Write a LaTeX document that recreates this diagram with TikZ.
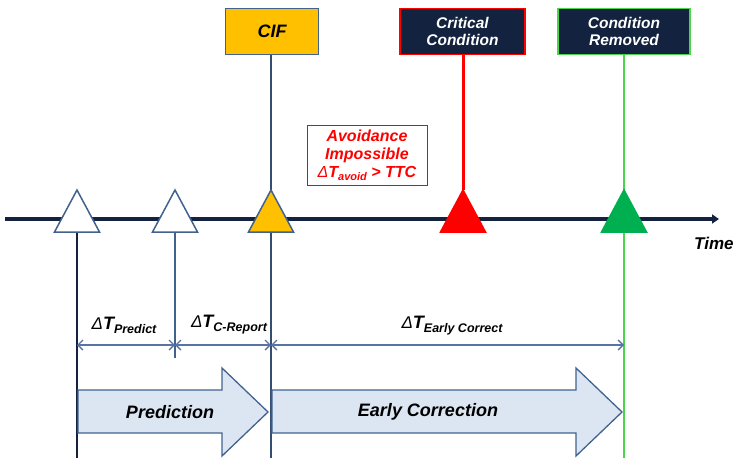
\documentclass[tikz,border=0pt]{standalone}
\usepackage{fontspec}
\setmainfont{Liberation Sans}
\usetikzlibrary{arrows.meta}

\definecolor{navy}{HTML}{13233F}
\definecolor{steel}{HTML}{41628F}
\definecolor{dimblue}{HTML}{5873A5}
\definecolor{cifyellow}{HTML}{FFC000}
\definecolor{alertred}{HTML}{FF0000}
\definecolor{okgreen}{HTML}{00B050}
\definecolor{lightgreen}{HTML}{4CD44C}
\definecolor{blockfill}{HTML}{DCE6F2}

\newcommand{\fsz}[1]{\fontsize{#1}{#1}\selectfont}
\newcommand{\dT}[1]{{\mdseries\fsz{17}Δ}{\fsz{18}T}{\fsz{12.5}\raisebox{-4pt}{#1}}}

\tikzset{
  every node/.style={font=\bfseries\itshape, inner sep=0pt},
  eventbox/.style={minimum height=46pt, align=center, font=\bfseries\itshape\fsz{15.5}, line width=1.8pt},
  tri/.style={line width=1.5pt, line join=miter},
  barb/.tip={Straight Barb[length=5pt,width=10pt,line width=1.3pt]},
  dimline/.style={dimblue, line width=1.2pt, {barb}-{barb}},
  block/.style={draw=steel, fill=blockfill, line width=1.3pt, line join=miter},
  blocktext/.style={font=\bfseries\itshape\fsz{18}},
}

\begin{document}
\begin{tikzpicture}[x=1pt, y=-1pt]
\useasboundingbox (0,0) rectangle (734,458);

% event boxes on top
\node[eventbox, draw=steel, line width=1.5pt, fill=cifyellow, minimum width=93pt, font=\bfseries\itshape\fsz{18}] (cif) at (272,31.5) {CIF};
\node[eventbox, draw=alertred, fill=navy, text=white, minimum width=125pt] (crit) at (462.5,31.5) {Critical\\[1pt]Condition};
\node[eventbox, draw=lightgreen, fill=navy, text=white, minimum width=132pt] (rem) at (624,31.5) {Condition\\[1pt]Removed};

% avoidance note
\node[draw=alertred, line width=0.8pt, text=alertred, minimum width=120pt, minimum height=60pt, align=center, font=\bfseries\itshape\fsz{16}] (avoid) at (367,155)
  {Avoidance\\[2pt]Impossible\\[2pt]{\mdseries\fsz{16}Δ}T{\fsz{11}\raisebox{-3pt}{avoid}} > TTC};

% triangle apex / base points and line ends
\coordinate (a1) at (77,190);  \coordinate (b1) at (77,232);  \coordinate (e1) at (77,458);
\coordinate (a2) at (175,190); \coordinate (b2) at (175,232); \coordinate (e2) at (175,358);
\coordinate (a3) at (271,190); \coordinate (b3) at (271,232); \coordinate (e3) at (271,458);
\coordinate (a4) at (463,190);
\coordinate (a5) at (624,190); \coordinate (b5) at (624,232); \coordinate (e5) at (624,458);

% vertical markers
\draw[navy, line width=1.2pt] (b1) -- (e1);
\draw[steel, line width=1.2pt] (b2) -- (e2);
\draw[steel!80!black, line width=1.5pt] (cif.south -| a3) -- (e3);
\draw[alertred, line width=3pt] (crit.south -| a4) -- (a4);
\draw[lightgreen, line width=1.2pt] (rem.south -| a5) -- (e5);

% time axis
\coordinate (t0) at (5,219);
\coordinate (t1) at (719,219);
\draw[navy, line width=4pt, -{Triangle[length=7pt,width=9pt]}] (t0) -- (t1);
\node[anchor=west, font=\bfseries\itshape\fsz{17}] (time) at (694,243) {Time};

% event triangles
\draw[tri, draw=steel, fill=white] (a1) -- ++(22.5,42) -- ++(-45,0) -- cycle;
\draw[tri, draw=steel, fill=white] (a2) -- ++(22.5,42) -- ++(-45,0) -- cycle;
\draw[tri, draw=steel, fill=cifyellow] (a3) -- ++(22.5,42) -- ++(-45,0) -- cycle;
\draw[tri, draw=alertred, fill=alertred] (a4) -- ++(22.5,42) -- ++(-45,0) -- cycle;
\draw[tri, draw=okgreen, fill=okgreen] (a5) -- ++(22.5,42) -- ++(-45,0) -- cycle;

% interval dimensions
\coordinate (d1) at (77,345);
\coordinate (d2) at (175,345);
\coordinate (d3) at (271,345);
\coordinate (d4) at (624,345);
\draw[dimline] (d1) -- (d2);
\draw[dimline] (d2) -- (d3);
\draw[dimline] (d3) -- (d4);
\node (lp) at (124,325) {\dT{Predict}};
\node (lc) at (229,325) {\dT{C-Report}};
\node (le) at (452,326) {\dT{Early Correct}};

% phase arrows
\draw[block] (78,390) -- (222,390) -- (222,368) -- (268,412) -- (222,456) -- (222,433) -- (78,433) -- cycle;
\node[blocktext] (pred) at (170,412) {Prediction};
\draw[block] (272,390) -- (576,390) -- (576,368) -- (622,412) -- (576,456) -- (576,433) -- (272,433) -- cycle;
\node[blocktext] (early) at (428,412) {Early Correction};
\end{tikzpicture}
\end{document}
